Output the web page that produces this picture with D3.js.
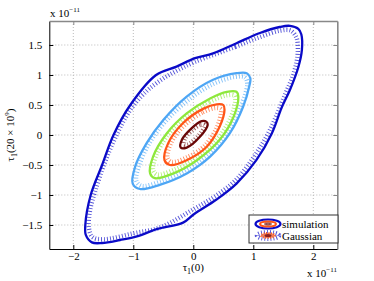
<!DOCTYPE html>
<html>
<head>
<meta charset="utf-8">
<script src="https://cdn.jsdelivr.net/npm/d3@7"></script>
<style>
  body { margin: 0; background: #fff; }
  text { font-family: "Liberation Serif", "DejaVu Serif", serif; }
</style>
</head>
<body>
<div id="chart"></div>
<script>
// tick values (units of 1e-11)
var xTicks = [-2, -1, 0, 1, 2];
var yTicks = [-1.5, -1, -0.5, 0, 0.5, 1, 1.5];

// simulated contours, outer to inner, [tau1(0), tau1(20e9)]
var simOuter = [[0.03,1.28],[0.33,1.36],[0.72,1.53],[1.11,1.70],[1.44,1.80],[1.61,1.82],[1.75,1.77],[1.80,1.68],[1.81,1.42],
  [1.75,1.13],[1.61,0.75],[1.47,0.45],[1.31,0.03],[1.05,-0.42],[0.72,-0.81],[0.38,-1.08],[0.01,-1.32],[-0.17,-1.46],
  [-0.61,-1.57],[-0.94,-1.69],[-1.22,-1.75],[-1.52,-1.80],[-1.69,-1.79],[-1.79,-1.67],[-1.80,-1.50],[-1.71,-1.0],
  [-1.52,-0.5],[-1.33,0.0],[-1.05,0.5],[-0.62,1.0],[-0.28,1.14]];
var simMid = [[-0.11,0.64],[0.33,0.92],[0.72,1.03],[0.89,1.03],[0.95,0.95],[0.93,0.8],[0.83,0.47],[0.61,0.03],[0.28,-0.36],
  [-0.11,-0.64],[-0.56,-0.83],[-0.89,-0.9],[-1.01,-0.81],[-0.97,-0.53],[-0.78,-0.14],[-0.5,0.25]];
var simGreen = [[-0.11,0.36],[0.28,0.61],[0.56,0.72],[0.72,0.72],[0.75,0.64],[0.67,0.3],[0.44,-0.08],[0.06,-0.42],
  [-0.33,-0.64],[-0.64,-0.72],[-0.72,-0.64],[-0.67,-0.36],[-0.44,0.03]];
var simOrange = [[-0.17,0.2],[0.17,0.44],[0.39,0.51],[0.5,0.5],[0.52,0.42],[0.44,0.14],[0.22,-0.2],[-0.11,-0.42],
  [-0.39,-0.5],[-0.48,-0.42],[-0.42,-0.14]];
var simInner = [[-0.03,0.11],[0.14,0.23],[0.22,0.22],[0.24,0.17],[0.11,-0.03],[-0.11,-0.21],[-0.21,-0.21],[-0.19,-0.08]];

// gaussian fit contours, same levels
var gaussOuter = [[0.03,1.22],[0.7,1.47],[1.1,1.63],[1.45,1.74],[1.62,1.74],[1.72,1.62],[1.74,1.35],[1.68,1.05],[1.52,0.65],
  [1.26,0.05],[1.0,-0.38],[0.7,-0.76],[0.35,-1.03],[0.0,-1.24],[-0.55,-1.54],[-1.0,-1.64],[-1.5,-1.74],[-1.68,-1.7],
  [-1.74,-1.55],[-1.72,-1.25],[-1.64,-0.95],[-1.48,-0.47],[-1.27,0.02],[-1.05,0.42],[-0.78,0.73],[-0.52,0.93],[-0.26,1.08]];
var gaussMid = [[-0.1,0.57],[0.33,0.85],[0.7,0.97],[0.86,0.96],[0.9,0.85],[0.78,0.45],[0.57,0.04],[0.25,-0.32],
  [-0.12,-0.58],[-0.56,-0.78],[-0.86,-0.85],[-0.95,-0.76],[-0.9,-0.5],[-0.73,-0.13],[-0.46,0.23]];
var gaussGreen = [[-0.1,0.31],[0.27,0.55],[0.55,0.66],[0.68,0.66],[0.7,0.58],[0.62,0.28],[0.4,-0.07],[0.05,-0.38],
  [-0.32,-0.58],[-0.6,-0.66],[-0.67,-0.58],[-0.62,-0.34],[-0.41,0.02]];
var gaussOrange = [[-0.15,0.16],[0.16,0.38],[0.37,0.45],[0.46,0.43],[0.46,0.36],[0.39,0.12],[0.19,-0.18],[-0.1,-0.37],
  [-0.36,-0.45],[-0.43,-0.38],[-0.37,-0.13]];
var gaussInner = [[-0.02,0.08],[0.12,0.17],[0.19,0.16],[0.08,-0.02],[-0.1,-0.16],[-0.16,-0.15],[-0.14,-0.06]];

var legendLabels = ["simulation", "Gaussian"];

var width = 374, height = 281;
var levelColors = ["#0a0ac8", "#4da6f5", "#8ee83c", "#ff5517", "#6a0808"];

var svg = d3.select("#chart").append("svg")
  .attr("width", width)
  .attr("height", height);

var x = d3.scaleLinear().domain([-2.4, 2.4]).range([49.3, 337.3]);
var y = d3.scaleLinear().domain([-1.9, 1.9]).range([249, 21]);

// dotted grid
svg.append("g").selectAll("line").data(xTicks).enter().append("line")
  .attr("x1", function(d) { return x(d); }).attr("x2", function(d) { return x(d); })
  .attr("y1", y.range()[1]).attr("y2", y.range()[0])
  .attr("stroke", "#bbb").attr("stroke-dasharray", "1,2");
svg.append("g").selectAll("line").data(yTicks).enter().append("line")
  .attr("y1", function(d) { return y(d); }).attr("y2", function(d) { return y(d); })
  .attr("x1", x.range()[0]).attr("x2", x.range()[1])
  .attr("stroke", "#bbb").attr("stroke-dasharray", "1,2");

var line = d3.line()
  .x(function(d) { return x(d[0]); })
  .y(function(d) { return y(d[1]); })
  .curve(d3.curveCatmullRomClosed.alpha(0.5));

var gauss = [gaussOuter, gaussMid, gaussGreen, gaussOrange, gaussInner];
var sims = [simOuter, simMid, simGreen, simOrange, simInner];

// gaussian contours drawn as hatched (short dashes on a wide stroke)
svg.append("g").selectAll("path").data(gauss).enter().append("path")
  .attr("d", line)
  .attr("fill", "none")
  .attr("stroke", function(d, i) { return levelColors[i]; })
  .attr("stroke-opacity", 0.7)
  .attr("stroke-width", 4.5)
  .attr("stroke-dasharray", "0.9,2.1");

svg.append("g").selectAll("path").data(sims).enter().append("path")
  .attr("d", line)
  .attr("fill", "none")
  .attr("stroke", function(d, i) { return levelColors[i]; })
  .attr("stroke-width", 2.3)
  .attr("stroke-linejoin", "round");

// axes
var fmt = d3.format("");
svg.append("g").attr("transform", "translate(0," + y.range()[0] + ")")
  .call(d3.axisBottom(x).tickValues(xTicks).tickFormat(fmt).tickSizeInner(-4).tickSizeOuter(0).tickPadding(3));
svg.append("g").attr("transform", "translate(" + x.range()[0] + ",0)")
  .call(d3.axisLeft(y).tickValues(yTicks).tickFormat(fmt).tickSizeInner(-4).tickSizeOuter(0).tickPadding(7));
svg.append("g").attr("class", "mirror").attr("transform", "translate(0," + y.range()[1] + ")")
  .call(d3.axisTop(x).tickValues(xTicks).tickSizeInner(-4).tickSizeOuter(0).tickFormat(""));
svg.append("g").attr("class", "mirror").attr("transform", "translate(" + x.range()[1] + ",0)")
  .call(d3.axisRight(y).tickValues(yTicks).tickSizeInner(-4).tickSizeOuter(0).tickFormat(""));

svg.selectAll(".tick text").attr("font-size", 11).attr("fill", "#000")
  .style("font-family", "'Liberation Serif', serif");
svg.selectAll(".domain").attr("stroke", "#000");
svg.selectAll(".mirror .domain").attr("stroke", "#888").attr("stroke-width", 1.6);
svg.selectAll(".mirror line").attr("stroke", "#888");

// exponent labels
var expTop = svg.append("text").attr("x", 50).attr("y", 17).attr("font-size", 11);
expTop.append("tspan").text("x 10");
expTop.append("tspan").attr("dy", -5).attr("font-size", 7).text("−11");

var expBottom = svg.append("text").attr("x", 307).attr("y", 277).attr("font-size", 11);
expBottom.append("tspan").text("x 10");
expBottom.append("tspan").attr("dy", -5).attr("font-size", 7).text("−11");

// axis titles
var xTitle = svg.append("text").attr("x", x(0)).attr("y", 271)
  .attr("text-anchor", "middle").attr("font-size", 11);
xTitle.append("tspan").text("τ");
xTitle.append("tspan").attr("dy", 3).attr("font-size", 8).text("1");
xTitle.append("tspan").attr("dy", -3).text("(0)");

var yTitle = svg.append("text")
  .attr("transform", "translate(14," + y(0) + ") rotate(-90)")
  .attr("text-anchor", "middle").attr("font-size", 11);
yTitle.append("tspan").text("τ");
yTitle.append("tspan").attr("dy", 3).attr("font-size", 8).text("1");
yTitle.append("tspan").attr("dy", -3).text("(20 × 10");
yTitle.append("tspan").attr("dy", -5).attr("font-size", 7).text("9");
yTitle.append("tspan").attr("dy", 5).text(")");

// legend
var legend = svg.append("g").attr("transform", "translate(249,215)");
legend.append("rect").attr("width", 89).attr("height", 28)
  .attr("fill", "#fff").attr("stroke", "#333");

var simIcon = legend.append("g").attr("transform", "translate(19,9)");
simIcon.append("ellipse").attr("rx", 12.5).attr("ry", 4.5).attr("fill", "none")
  .attr("stroke", levelColors[0]).attr("stroke-width", 2.2);
simIcon.append("ellipse").attr("rx", 8).attr("ry", 2.6).attr("fill", "none")
  .attr("stroke", levelColors[3]).attr("stroke-width", 2);
simIcon.append("ellipse").attr("rx", 3.5).attr("ry", 0.9).attr("fill", "none")
  .attr("stroke", levelColors[4]).attr("stroke-width", 1);

var gaussIcon = legend.append("g").attr("transform", "translate(19,20.5)");
gaussIcon.append("ellipse").attr("rx", 11).attr("ry", 3.2).attr("fill", "none")
  .attr("stroke", levelColors[0]).attr("stroke-opacity", 0.7)
  .attr("stroke-width", 4.5).attr("stroke-dasharray", "0.9,2");
gaussIcon.append("ellipse").attr("rx", 7).attr("ry", 2.5).attr("fill", "#f08060")
  .attr("stroke", levelColors[3]).attr("stroke-width", 2).attr("stroke-dasharray", "0.9,1.5");
gaussIcon.append("ellipse").attr("rx", 3.5).attr("ry", 1.6).attr("fill", "#8a2020");

legend.selectAll("text.lab").data(legendLabels).enter().append("text")
  .attr("class", "lab")
  .attr("x", 33)
  .attr("y", function(d, i) { return 13 + i * 11.5; })
  .attr("font-size", 11)
  .text(function(d) { return d; });
</script>
</body>
</html>
